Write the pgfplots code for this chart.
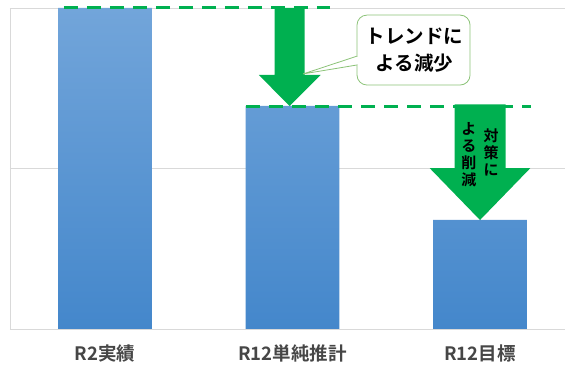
\documentclass[border=0pt]{standalone}
\usepackage{pgfplots}
\pgfplotsset{compat=1.18}
\usepackage{fontspec}
\newfontfamily\cjk{Noto Sans CJK JP}
\newfontfamily\cjkb{Noto Sans CJK JP Bold}
\definecolor{gridgray}{HTML}{D9D9D9}
\definecolor{bartop}{RGB}{114,165,218}
\definecolor{barbot}{RGB}{68,135,203}
\definecolor{arrgreen}{RGB}{0,176,80}
\definecolor{calloutborder}{RGB}{140,195,120}
\definecolor{labelgray}{RGB}{70,70,70}
\begin{document}
\begin{tikzpicture}
\path[use as bounding box] (0,0) rectangle (565pt,369pt);
\begin{axis}[
  at={(10pt,40pt)}, anchor=south west,
  scale only axis, width=563.75pt, height=321pt,
  xmin=-0.5067, xmax=2.5, ymin=0, ymax=2,
  axis lines*=left,
  axis line style={gridgray, line width=0.8pt},
  ytick={1,2}, yticklabels={},
  ymajorgrids, grid style={gridgray, line width=0.8pt},
  xtick={0,1,2}, xticklabels={R2実績,R12単純推計,R12目標},
  major tick length=0,
  xticklabel style={font=\cjkb\fontsize{18.5}{20}\selectfont, text=labelgray, yshift=-12pt},
  clip=false,
]
\addplot[ybar, bar width=0.5, draw=none, top color=bartop, bottom color=barbot]
  coordinates {(0,2.0) (1,1.39) (2,0.68)};

% arrow 1 (trend)
\fill[arrgreen] (axis cs:0.905,2.0) -- (axis cs:0.905,1.583) -- (axis cs:0.82,1.583)
  -- (axis cs:0.985,1.389) -- (axis cs:1.15,1.583) -- (axis cs:1.065,1.583)
  -- (axis cs:1.065,2.0) -- cycle;
% arrow 2 (measures)
\fill[arrgreen] (axis cs:1.864,1.40) -- (axis cs:1.864,1.003) -- (axis cs:1.731,1.003)
  -- (axis cs:2.0,0.679) -- (axis cs:2.269,1.003) -- (axis cs:2.136,1.003)
  -- (axis cs:2.136,1.40) -- cycle;

% dashed reference lines
\draw[arrgreen, line width=3pt, dash pattern=on 14pt off 9pt]
  (axis cs:-0.22,2.005) -- (axis cs:1.20,2.005);
\draw[arrgreen, line width=3pt, dash pattern=on 14pt off 9pt]
  (axis cs:0.752,1.389) -- (axis cs:2.27,1.389);

% callout
\draw[calloutborder, fill=white, line width=0.8pt, rounded corners=10pt]
  (axis cs:1.344,1.956) rectangle (axis cs:1.947,1.520);
\fill[white] (axis cs:1.344,1.70) -- (axis cs:1.056,1.589) -- (axis cs:1.344,1.645) -- cycle;
\draw[white, line width=1.6pt] (axis cs:1.344,1.697) -- (axis cs:1.344,1.648);
\draw[calloutborder, line width=0.8pt] (axis cs:1.344,1.70) -- (axis cs:1.056,1.589) -- (axis cs:1.344,1.645);
\node[font=\cjkb\fontsize{19.5}{27}\selectfont, align=center] at (axis cs:1.65,1.738) {トレンドに\\よる減少};

% vertical text in arrow 2
\node[font=\cjkb\fontsize{15}{17}\selectfont, align=center, inner sep=0pt] at (axis cs:2.059,1.103) {対\\策\\に};
\node[font=\cjkb\fontsize{15}{17}\selectfont, align=center, inner sep=0pt] at (axis cs:1.941,1.084) {よ\\る\\削\\減};
\end{axis}
\end{tikzpicture}
\end{document}
